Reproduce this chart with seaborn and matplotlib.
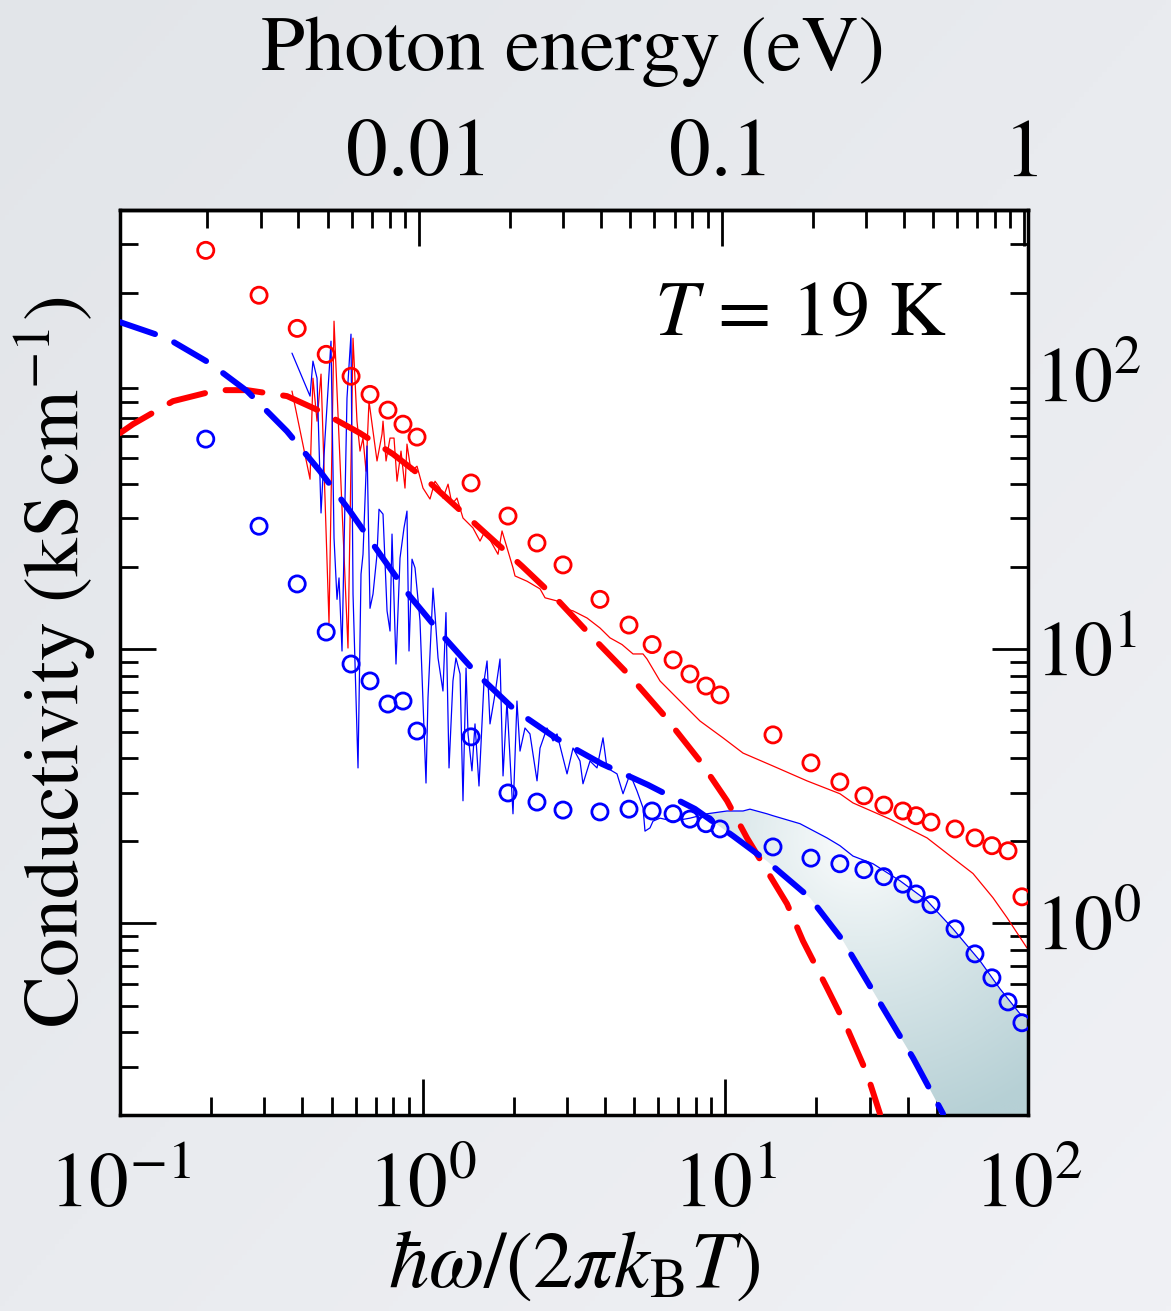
import numpy as np
import matplotlib
matplotlib.use("Agg")
import matplotlib.pyplot as plt
import seaborn as sns
from matplotlib.ticker import LogLocator, NullFormatter, FixedLocator, FuncFormatter
from matplotlib.colors import to_rgb
from matplotlib.patches import Polygon

# ---------------- data ----------------
# reduced frequency  hbar*omega / (2 pi k_B T)
dot_x = [0.192, 0.288, 0.385, 0.480, 0.580, 0.670, 0.768, 0.861, 0.958, 1.445,
         1.914, 2.386, 2.909, 3.852, 4.805, 5.73, 6.72, 7.64, 8.63, 9.60,
         14.37, 19.18, 23.9, 28.7, 33.4, 38.6, 42.7, 47.8, 57.4, 66.8,
         76.0, 85.9, 95.5]
dot_red = [285, 195.5, 148, 119, 99, 85, 74.5, 66.2, 59.4, 40.4,
           30.6, 24.4, 20.3, 15.2, 12.25, 10.4, 9.14, 8.12, 7.34, 6.81,
           4.87, 3.85, 3.28, 2.92, 2.70, 2.57, 2.47, 2.34, 2.21, 2.05,
           1.92, 1.84, 1.25]
dot_blue = [58.4, 28.1, 17.3, 11.55, 8.83, 7.66, 6.31, 6.47, 5.03, 4.79,
            2.99, 2.77, 2.59, 2.55, 2.61, 2.57, 2.51, 2.40, 2.31, 2.21,
            1.90, 1.73, 1.65, 1.57, 1.48, 1.39, 1.28, 1.17, 0.955, 0.774,
            0.633, 0.517, 0.434]

# measured spectra (thin lines)
spec_red_x = [0.370, 0.4245, 0.434, 0.4477, 0.4615, 0.4904, 0.5095, 0.5666, 0.5887, 0.6067,
              0.6209, 0.6352, 0.6499, 0.6648, 0.6854, 0.7066, 0.7340, 0.7396, 0.7568, 0.7801,
              0.8042, 0.8227, 0.8481, 0.8742, 0.8875, 0.9152, 0.9579, 1.0025, 1.0573, 1.0985,
              1.141, 1.167, 1.213, 1.250, 1.298, 1.359, 1.466, 1.547, 1.607, 1.774,
              1.829, 1.988, 2.019, 2.212, 2.442, 2.537, 2.779, 2.909, 3.139, 3.491,
              3.854, 4.159, 4.557, 4.955, 5.346, 5.511, 6.084, 7.084, 8.249, 9.824,
              11.44, 14.37, 18.61, 23.92, 26.41, 35.00, 46.39, 56.54, 65.81, 76.62,
              85.22, 99.2]
spec_red_y = [87.4, 41.7, 97.4, 67.9, 100.8, 12.46, 157.2, 10.10, 136.3, 67.9,
              52.8, 58.9, 44.6, 80.3, 62.4, 48.6, 60.9, 67.9, 48.6, 58.9,
              58.9, 41.0, 52.8, 38.7, 56.0, 44.6, 46.5, 38.7, 35.3, 41.0,
              38.7, 35.6, 40.0, 33.8, 35.6, 30.1, 27.7, 24.8, 27.0, 22.2,
              27.0, 19.8, 18.5, 17.7, 16.6, 15.4, 15.0, 14.1, 13.8, 13.0,
              11.95, 11.0, 10.4, 9.61, 9.61, 9.21, 7.66, 6.47, 5.47, 4.75,
              4.18, 3.75, 3.31, 2.97, 2.75, 2.40, 2.05, 1.73, 1.52, 1.24,
              1.05, 0.814]

spec_blue_x = [0.370, 0.4245, 0.434, 0.4477, 0.4615, 0.4757, 0.4979, 0.5095, 0.5212, 0.5292,
               0.5414, 0.5623, 0.5797, 0.5887, 0.6115, 0.6256, 0.6352, 0.6548, 0.6699, 0.6854,
               0.7066, 0.7174, 0.7396, 0.7626, 0.7801, 0.7920, 0.8163, 0.8417, 0.8676, 0.8875,
               0.9013, 0.9222, 0.9434, 0.9799, 1.0257, 1.0413, 1.0819, 1.0985, 1.124, 1.167,
               1.194, 1.222, 1.259, 1.288, 1.329, 1.359, 1.391, 1.412, 1.455, 1.489,
               1.535, 1.595, 1.632, 1.669, 1.734, 1.801, 1.843, 1.899, 1.988, 2.049,
               2.097, 2.178, 2.262, 2.387, 2.442, 2.575, 2.696, 2.779, 2.999, 3.139,
               3.310, 3.386, 3.572, 3.767, 3.943, 4.064, 4.386, 4.592, 4.842, 5.107,
               5.346, 5.427, 5.638, 5.768, 6.084, 6.717, 7.644, 8.700, 10.13, 11.44,
               12.06, 13.73, 14.37, 17.65, 21.67, 23.92, 26.41, 30.75, 32.43, 37.77,
               46.39, 56.54, 69.41, 80.82, 94.1, 100.0]
spec_blue_y = [120.2, 83.8, 112.4, 97.4, 31.4, 58.9, 132.9, 25.4, 15.2, 18.2,
               9.85, 82.4, 141.0, 15.9, 3.69, 18.8, 22.2, 55.1, 14.1, 15.9,
               22.2, 32.4, 31.1, 13.8, 11.65, 26.3, 8.83, 21.5, 27.7, 31.9,
               9.85, 21.3, 19.8, 12.7, 3.25, 6.64, 16.7, 13.4, 9.29, 7.04,
               13.6, 3.69, 7.66, 9.29, 8.12, 2.80, 8.54, 4.91, 3.60, 5.34,
               3.17, 7.66, 9.06, 5.34, 6.87, 9.21, 3.45, 6.47, 2.51, 6.47,
               4.25, 5.16, 4.91, 3.31, 4.36, 5.16, 4.63, 4.91, 3.51, 4.36,
               3.91, 3.23, 3.91, 3.69, 4.75, 3.69, 3.51, 2.97, 3.51, 3.04,
               2.64, 2.17, 2.23, 2.36, 2.42, 2.36, 2.42, 2.51, 2.57, 2.57,
               2.61, 2.51, 2.47, 2.31, 2.05, 1.92, 1.76, 1.65, 1.59, 1.43,
               1.21, 0.955, 0.730, 0.577, 0.468, 0.453]

# model curves (dashed)
model_red_x = [0.100, 0.1104, 0.1496, 0.2092, 0.263, 0.3563, 0.458, 0.6207, 0.798, 1.0573,
               1.571, 2.129, 2.779, 3.654, 4.770, 6.224, 8.249, 10.13, 11.79, 13.73,
               15.99, 18.05, 21.67, 25.23, 29.38, 32.43]
model_red_y = [61.4, 66.2, 80.3, 88.1, 88.1, 83.8, 73.9, 61.4, 51.5, 40.4,
               27.2, 20.1, 15.2, 11.0, 8.12, 5.80, 3.91, 2.80, 2.05, 1.554,
               1.178, 0.863, 0.582, 0.416, 0.283, 0.202]
model_blue_x = [0.100, 0.143, 0.198, 0.263, 0.356, 0.458, 0.575, 0.723, 0.908, 1.167,
                1.512, 2.018, 2.779, 3.913, 5.553, 7.94, 10.6, 13.7, 19.05, 24.5,
                31.7, 41.7, 52.4]
model_blue_y = [156, 136.3, 110.5, 87.4, 62.4, 44.6, 31.9, 22.2, 15.6, 11.17,
                8.12, 6.00, 4.71, 3.815, 3.20, 2.615, 2.085, 1.69, 1.239, 0.863,
                0.535, 0.323, 0.202]

EV_PER_UNIT = 0.01029          # photon energy (eV) per unit of hbar*omega/(2 pi k_B T) at 19 K
x_ticks = [0.1, 1, 10, 100]
y_ticks = [1, 10, 100]
ev_ticks = [0.01, 0.1, 1]
ev_labels = ["0.01", "0.1", "1"]

# ---------------- style ----------------
sns.set_style("ticks")
plt.rcParams.update({
    "font.family": ["STIXGeneral", "DejaVu Sans"],
    "mathtext.fontset": "stix",
    "axes.linewidth": 2.5,
    "axes.edgecolor": "black",
    "axes.facecolor": "white",
    "text.color": "black",
    "axes.labelcolor": "black",
    "xtick.color": "black",
    "ytick.color": "black",
})

W, H = 1171, 1311
fig = plt.figure(figsize=(W / 100, H / 100), dpi=100)

# soft grey background
bg = fig.add_axes([0, 0, 1, 1], zorder=-10)
bg.axis("off")
gx, gy = np.meshgrid(np.linspace(0, 1, 256), np.linspace(0, 1, 256))
tbg = ((gx + gy) / 2)[..., None]
c0, c1 = np.array(to_rgb("#e2e5e9")), np.array(to_rgb("#f0f1f5"))
bg.imshow(c0 * (1 - tbg) + c1 * tbg, extent=[0, 1, 0, 1], aspect="auto", origin="upper")
bg.set_xlim(0, 1)
bg.set_ylim(0, 1)

L, R, T, B = 120, 1028, 210, 1115
ax = fig.add_axes([L / W, 1 - B / H, (R - L) / W, (B - T) / H])
ax.set_xscale("log")
ax.set_yscale("log")

sx_b, sy_b = np.asarray(spec_blue_x), np.asarray(spec_blue_y)
mx_b, my_b = np.asarray(model_blue_x), np.asarray(model_blue_y)

# shaded region between measured blue spectrum and blue model
upper = np.column_stack([sx_b, sy_b])[sx_b >= 8.7]
lower = np.column_stack([mx_b, my_b])[mx_b >= 7.9][::-1]
floor = 0.1
poly = np.vstack([upper, [[upper[-1, 0], floor], [lower[0, 0], floor]], lower])
patch = Polygon(poly, closed=True, transform=ax.transData, facecolor="none",
                edgecolor="none")
ax.add_patch(patch)
n = 400
u, v = np.meshgrid(np.linspace(0, 1, n), np.linspace(1, 0, n))
d = np.hypot((u - 0.815) * (R - L), (v - 0.304) * (B - T))
tf = (np.clip(d / 300.0, 0, 1) ** 0.85)[..., None]
white, dark = np.ones(3), np.array(to_rgb("#b6d0d5"))
im = ax.imshow(white * (1 - tf) + dark * tf, extent=[0, 1, 0, 1], transform=ax.transAxes,
               origin="upper", aspect="auto", zorder=1, interpolation="bilinear")
im.set_clip_path(patch)

# measured spectra
sns.lineplot(x=spec_red_x, y=spec_red_y, ax=ax, color="#ff0000", linewidth=0.9,
             sort=False, estimator=None, zorder=2)
sns.lineplot(x=spec_blue_x, y=spec_blue_y, ax=ax, color="#0000ff", linewidth=0.9,
             sort=False, estimator=None, zorder=2)

# model curves
for mx, my, col in [(model_red_x, model_red_y, "#ff0000"),
                    (model_blue_x, model_blue_y, "#0000ff")]:
    ln, = ax.plot(mx, my, color=col, linewidth=4.3, zorder=3)
    ln.set_dashes([6.2, 3.5])
    ln.set_dash_capstyle("round")

# open circles
sns.scatterplot(x=dot_x, y=dot_red, ax=ax, s=135, color="#ff0000", facecolor="none",
                edgecolor="#ff0000", linewidth=2.0, zorder=4)
sns.scatterplot(x=dot_x, y=dot_blue, ax=ax, s=135, color="#0000ff", facecolor="none",
                edgecolor="#0000ff", linewidth=2.0, zorder=4)

ax.set_xlim(0.1, 100)
ax.set_ylim(0.2, 400)

# ticks
ax.xaxis.set_major_locator(FixedLocator(x_ticks))
ax.xaxis.set_minor_locator(LogLocator(base=10, subs=np.arange(2, 10), numticks=30))
ax.xaxis.set_minor_formatter(NullFormatter())
ax.xaxis.set_major_formatter(FuncFormatter(lambda val, _: r"$10^{%d}$" % round(np.log10(val))))
ax.yaxis.set_major_locator(FixedLocator(y_ticks))
ax.yaxis.set_minor_locator(LogLocator(base=10, subs=np.arange(2, 10), numticks=30))
ax.yaxis.set_minor_formatter(NullFormatter())
ax.yaxis.set_major_formatter(FuncFormatter(lambda val, _: r"$10^{%d}$" % round(np.log10(val))))

ax.tick_params(which="both", direction="in", width=2.0, top=False, bottom=True,
               left=True, right=True, labelleft=False, labelright=True)
ax.tick_params(which="major", length=26)
ax.tick_params(which="minor", length=13)
ax.tick_params(axis="x", which="major", pad=28, labelsize=57)
ax.tick_params(axis="y", which="major", pad=5, labelsize=56)

for loc, tk in zip(ax.yaxis.get_majorticklocs(), ax.yaxis.get_major_ticks()):
    if np.isclose(loc, 100):
        tk.tick1line.set_visible(False)
        tk.tick2line.set_visible(False)

# photon energy axis on top
sec = ax.secondary_xaxis("top", functions=(lambda x: x * EV_PER_UNIT,
                                           lambda e: e / EV_PER_UNIT))
sec.set_xticks(ev_ticks, labels=ev_labels)
sec.xaxis.set_minor_locator(LogLocator(base=10, subs=np.arange(2, 10), numticks=30))
sec.xaxis.set_minor_formatter(NullFormatter())
sec.tick_params(which="both", direction="in", width=2.0)
sec.tick_params(which="major", length=26, pad=12, labelsize=60)
sec.tick_params(which="minor", length=13)
sec.spines["top"].set_linewidth(2.5)

# labels
ax.set_xlabel(r"$\hbar\omega/(2\pi k_{\mathrm{B}}T)$", fontsize=58)
ax.xaxis.set_label_coords(0.5, -0.127)
ax.set_ylabel(r"Conductivity (kS$\,$cm$^{-1}$)", fontsize=56)
ax.yaxis.set_label_position("left")
ax.yaxis.set_label_coords(-0.024, 0.5)
fig.text(573 / W, 1 - 70 / H, "Photon energy (eV)", fontsize=57, ha="center",
         va="baseline")

ax.text(0.749, 0.881, r"$T\,=\,19\ \mathrm{K}$", transform=ax.transAxes, fontsize=56,
        ha="center", va="center")

fig.savefig("out.png", dpi=100)
